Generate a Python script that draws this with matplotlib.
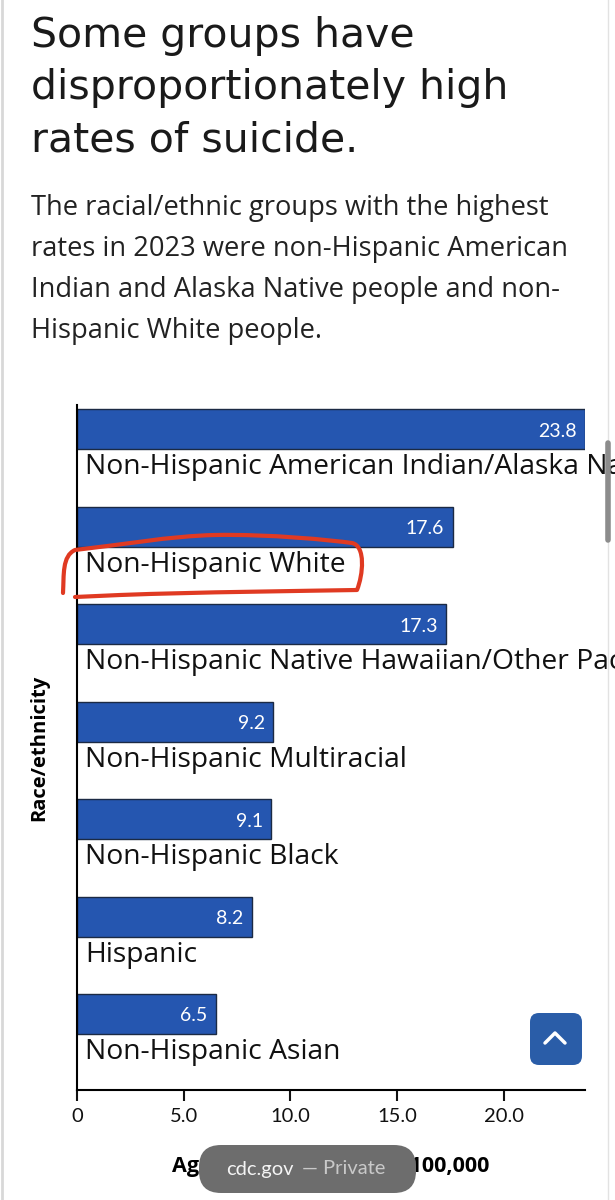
import matplotlib
matplotlib.use('Agg')
import matplotlib.pyplot as plt
from matplotlib.patches import FancyBboxPatch, PathPatch
from matplotlib.path import Path

plt.rcParams['font.family'] = ['Open Sans', 'DejaVu Sans']

groups = [
    "Non-Hispanic American Indian/Alaska Native",
    "Non-Hispanic White",
    "Non-Hispanic Native Hawaiian/Other Pacific Islander",
    "Non-Hispanic Multiracial",
    "Non-Hispanic Black",
    "Hispanic",
    "Non-Hispanic Asian",
]
rates = [23.8, 17.6, 17.3, 9.2, 9.1, 8.2, 6.5]
xticks = [0, 5, 10, 15, 20]
xtick_labels = ["0", "5.0", "10.0", "15.0", "20.0"]

title_lines = ["Some groups have", "disproportionately high", "rates of suicide."]
sub_lines = [
    "The racial/ethnic groups with the highest",
    "rates in 2023 were non-Hispanic American",
    "Indian and Alaska Native people and non-",
    "Hispanic White people.",
]

W, H = 615, 1200
fig = plt.figure(figsize=(W / 100, H / 100), dpi=100)
fig.patch.set_facecolor('white')

# main chart area
ax = fig.add_axes([77 / W, 1 - 1090 / H, 508 / W, 685 / H])
ypos = list(range(len(groups)))
ax.barh(ypos, rates, height=0.41, color='#2556b0', edgecolor='#1b2a44', linewidth=1)
ax.set_xlim(0, 23.8)
ax.set_ylim(6.78, -0.25)
for y, g, r in zip(ypos, groups, rates):
    ax.text(0.38, y + 0.39, g, va='center', ha='left', fontsize=20.3, color='#111111')
    ax.text(r - 0.4, y + 0.02, f"{r:.1f}", va='center', ha='right', fontsize=14,
            color='white', family='Lato')

ax.set_xticks(xticks)
ax.set_xticklabels(xtick_labels, family='Lato')
ax.set_yticks([])
ax.tick_params(axis='x', length=8, width=1.5, labelsize=14.5, pad=5, colors='#111111')
for s in ['top', 'right']:
    ax.spines[s].set_visible(False)
for s in ['left', 'bottom']:
    ax.spines[s].set_linewidth(1.5)
ax.set_ylabel("Race/ethnicity", fontsize=14.5, fontweight='bold', labelpad=20)
ax.set_xlabel("Age-adjusted rate per 100,000", fontsize=15.5, fontweight='bold', labelpad=22)

# overlay in pixel coordinates for page decoration
ov = fig.add_axes([0, 0, 1, 1], zorder=10)
ov.set_xlim(0, W)
ov.set_ylim(H, 0)
ov.axis('off')
ov.patch.set_alpha(0)

for i, line in enumerate(title_lines):
    ov.text(31, 47 + 52 * i, line, fontsize=29.5, color='#1a1a1a', va='baseline',
            family='DejaVu Sans')
for i, line in enumerate(sub_lines):
    ov.text(31, 215 + 41 * i, line, fontsize=19.6, color='#222222', va='baseline')

# page borders and scrollbar
ov.plot([1.5, 1.5], [0, H], color='#d8d8d8', lw=2)
ov.plot([608, 608], [0, H], color='#e2e2e2', lw=1)
ov.plot([608, 608], [443, 540], color='#8c8c8c', lw=4, solid_capstyle='round')

# red hand-drawn circle
verts = [(63, 593),
         (64, 575), (62, 556), (75, 550),
         (120, 545), (170, 536), (215, 535),
         (270, 534), (330, 540), (352, 543),
         (366, 546), (363, 575), (357, 590),
         (300, 591), (200, 592), (120, 595),
         (75, 597)]
codes = [Path.MOVETO] + [Path.CURVE4] * 15 + [Path.LINETO]
ov.add_patch(PathPatch(Path(verts, codes), facecolor='none', edgecolor='#e03a22',
                       lw=3, capstyle='round', joinstyle='round'))

# back-to-top button
ov.add_patch(FancyBboxPatch((530, 1013), 52, 52, boxstyle='round,pad=0,rounding_size=9',
                            facecolor='#2a5da8', edgecolor='none'))
ov.plot([545, 555, 565], [1043, 1033, 1043], color='white', lw=2.5,
        solid_capstyle='round', solid_joinstyle='round')

# browser pill
ov.add_patch(FancyBboxPatch((199, 1145), 217, 48, boxstyle='round,pad=0,rounding_size=22',
                            facecolor='#6d6d6d', edgecolor='none'))
ov.text(226, 1169, "cdc.gov", fontsize=14.5, color='#f4f4f4', va='center', ha='left',
        family='Lato')
ov.text(302, 1169, "— Private", fontsize=14.5, color='#c9c9c9', va='center', ha='left',
        family='Lato')

fig.savefig('out.png', dpi=100)
